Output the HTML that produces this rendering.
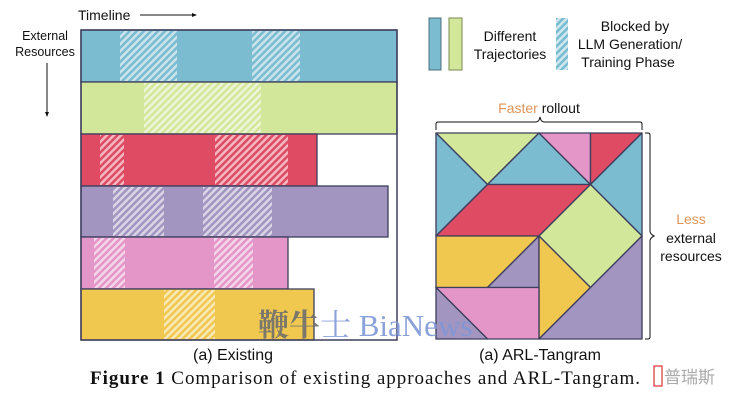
<!DOCTYPE html>
<html><head><meta charset="utf-8"><style>
body{margin:0;background:#fff;width:736px;height:405px;overflow:hidden}
</style></head><body>
<svg width="736" height="405" viewBox="0 0 736 405" xmlns="http://www.w3.org/2000/svg" font-family="Liberation Sans, sans-serif">
<defs>
<pattern id="h" width="5" height="5" patternUnits="userSpaceOnUse" patternTransform="rotate(45)">
<rect width="2.5" height="5" fill="rgba(255,255,255,0.6)"/>
</pattern>
<pattern id="hb" width="5" height="5" patternUnits="userSpaceOnUse" patternTransform="rotate(45)">
<rect width="5" height="5" fill="#cfe7ef"/><rect width="2.5" height="5" fill="#79bcd1"/>
</pattern>
</defs>
<text x="78" y="20" font-size="14" fill="#111">Timeline</text>
<line x1="140" y1="15" x2="194" y2="15" stroke="#111" stroke-width="1"/><polygon points="197,15 192,13 192,17" fill="#111"/>
<text x="45" y="40" font-size="12.5" text-anchor="middle" fill="#111">External</text>
<text x="45" y="56" font-size="12.5" text-anchor="middle" fill="#111">Resources</text>
<line x1="47" y1="63" x2="47" y2="113" stroke="#111"/><polygon points="47,117 45,112 49,112" fill="#111"/>
<g stroke="#3e3f5e" stroke-width="1.3">
<rect x="81" y="30" width="316" height="52" fill="#7bbcd1"/>
<rect x="81" y="82" width="316" height="52" fill="#d3e79a"/>
<rect x="81" y="134" width="236" height="52" fill="#de4b62"/>
<rect x="81" y="186" width="307" height="51" fill="#a295c0"/>
<rect x="81" y="237" width="207" height="52" fill="#e596c8"/>
<rect x="81" y="289" width="233" height="51" fill="#f1c84f"/>
</g>
<g fill="url(#h)">
<rect x="120" y="31" width="57" height="50"/><rect x="252" y="31" width="48" height="50"/>
<rect x="144" y="83" width="117" height="50"/>
<rect x="100" y="135" width="24" height="50"/><rect x="215" y="135" width="73" height="50"/>
<rect x="113" y="187" width="51" height="49"/><rect x="203" y="187" width="69" height="49"/>
<rect x="94" y="238" width="31" height="50"/><rect x="214" y="238" width="39" height="50"/>
<rect x="164" y="290" width="51" height="49"/>
</g>
<rect x="81" y="30" width="316" height="310" fill="none" stroke="#3e3f5e" stroke-width="1.5"/>
<text x="233" y="360" font-size="16" text-anchor="middle" fill="#111">(a) Existing</text>
<rect x="429" y="18" width="12" height="52" fill="#7bbcd1" stroke="#4c6f80"/>
<rect x="449" y="18" width="13" height="52" fill="#d3e79a" stroke="#7a8a50"/>
<text x="510" y="41" font-size="14" text-anchor="middle" fill="#111">Different</text>
<text x="510" y="59" font-size="14" text-anchor="middle" fill="#111">Trajectories</text>
<rect x="556" y="18" width="12" height="52" fill="url(#hb)"/>
<text x="635" y="31" font-size="14" text-anchor="middle" fill="#111">Blocked by</text>
<text x="630" y="49" font-size="14" text-anchor="middle" fill="#111">LLM Generation/</text>
<text x="628" y="67" font-size="14" text-anchor="middle" fill="#111">Training Phase</text>
<text x="539" y="113" font-size="14" text-anchor="middle"><tspan fill="#e0955a">Faster</tspan><tspan fill="#111"> rollout</tspan></text>
<path d="M436,130 V124 Q436,122 438,122 H536 Q539,122 540,117 Q541,122 544,122 H640 Q642,122 642,124 V130" fill="none" stroke="#111"/>
<path d="M645,133 H648 Q650,133 650,135 V231 Q650,234 654,236 Q650,238 650,241 V337 Q650,339 648,339 H645" fill="none" stroke="#111"/>
<text x="691" y="224" font-size="14" text-anchor="middle" fill="#e0955a">Less</text>
<text x="691" y="243" font-size="14" text-anchor="middle" fill="#111">external</text>
<text x="691" y="261" font-size="14" text-anchor="middle" fill="#111">resources</text>
<g transform="translate(436,133) scale(51.5)" stroke="#3e3f5e" stroke-width="0.026" stroke-linejoin="round">
<polygon points="0,0 2,0 1,1" fill="#d3e79a"/>
<polygon points="0,0 1,1 0,2" fill="#7bbcd1"/>
<polygon points="2,0 3,1 1,1" fill="#7bbcd1"/>
<polygon points="2,0 3,0 3,1" fill="#e596c8"/>
<polygon points="3,0 4,0 3,1" fill="#de4b62"/>
<polygon points="4,0 4,2 3,1" fill="#7bbcd1"/>
<polygon points="1,1 3,1 2,2 0,2" fill="#de4b62"/>
<polygon points="3,1 4,2 3,3 2,2" fill="#d3e79a"/>
<polygon points="0,2 2,2 1,3 0,3" fill="#f1c84f"/>
<polygon points="2,2 2,3 1,3" fill="#a295c0"/>
<polygon points="2,2 3,3 2,4" fill="#f1c84f"/>
<polygon points="4,2 4,4 2,4 3,3" fill="#a295c0"/>
<polygon points="0,3 2,3 2,4 1,4" fill="#e596c8"/>
<polygon points="0,3 1,4 0,4" fill="#a295c0"/>
</g>
<text x="540" y="360" font-size="16" text-anchor="middle" fill="#111">(a) ARL-Tangram</text>
<text x="258" y="336" font-size="31" font-weight="bold" font-family="Liberation Serif, Noto Serif CJK SC, serif" fill="#6f6f6f" opacity="0.9">鞭牛</text>
<text x="320" y="336" font-size="31" font-family="Liberation Serif, Noto Serif CJK SC, serif" fill="#7f97d6" opacity="0.9">士 BiaNews</text>
<text x="90" y="384" font-size="19" font-family="Liberation Serif, serif" fill="#111" textLength="550" lengthAdjust="spacing"><tspan font-weight="bold">Figure 1</tspan>  Comparison of existing approaches and ARL-Tangram.</text>
<text x="664" y="383" font-size="17" font-family="Liberation Sans, Noto Sans CJK SC, sans-serif" fill="#aaa">普瑞斯</text>
<rect x="654" y="366" width="8" height="20" fill="none" stroke="#d33" stroke-width="1.2"/>
</svg>
</body></html>
